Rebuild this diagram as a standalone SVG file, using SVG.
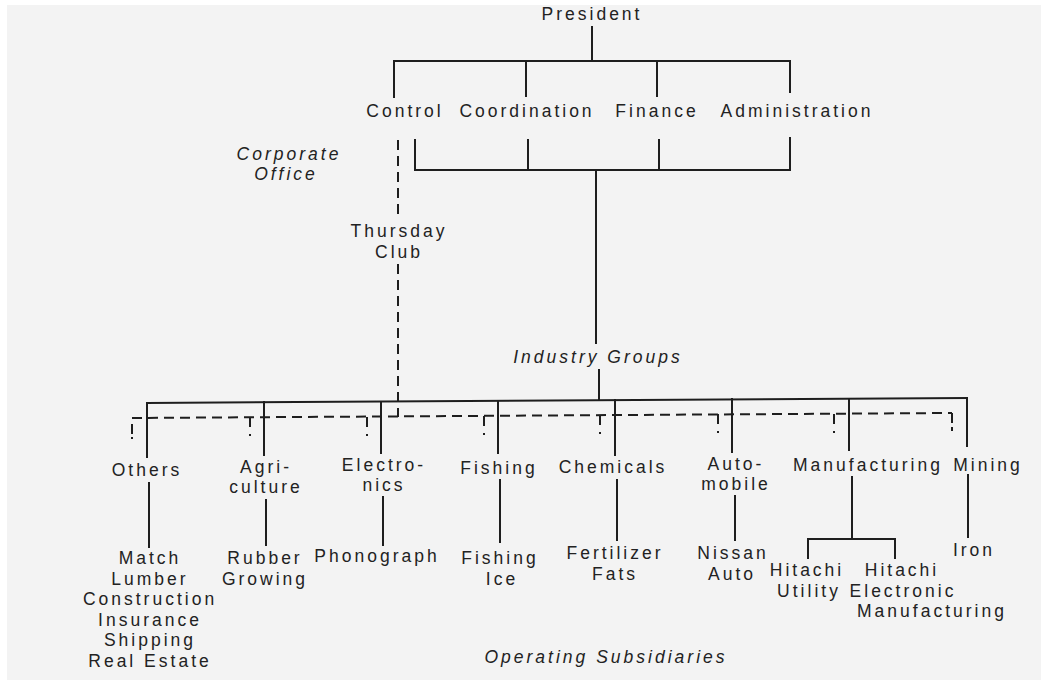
<svg xmlns="http://www.w3.org/2000/svg" width="1041" height="680" viewBox="0 0 1041 680">
  <style>
    .t { font-family: "Liberation Sans", Arial, sans-serif; font-size: 17.5px; letter-spacing: 3px; fill: #222222; text-anchor: middle; }
    .i { font-style: italic; }
    .ln { stroke: #1e1e1e; stroke-width: 2; fill: none; stroke-linecap: square; }
    .ds { stroke: #1e1e1e; stroke-width: 2; fill: none; stroke-dasharray: 10 6; }
    .dk { stroke: #1e1e1e; stroke-width: 2; fill: none; }
  </style>

  <!-- paper -->
  <rect x="0" y="0" width="1041" height="680" fill="#ffffff"/>
  <rect x="7" y="5" width="1034" height="675" fill="#f3f3f3"/>

  <!-- connectors -->
  <g id="connectors">
    <!-- president to staff offices -->
    <path class="ln" d="M592 27 V61 M394 61 H790 M394 61 V97 M526 61 V96 M657 61 V96 M790 61 V92"/>
    <!-- staff offices to industry groups -->
    <path class="ln" d="M415 140 V170 M528 140 V170 M659 140 V170 M790 138 V170 M415 170 H790 M596 170 V343 M599 370 V400"/>
    <!-- industry group bus -->
    <path class="ln" d="M147 403 L967 398"/>
    <path class="ln" d="M147 403 V457 M264 402 V455 M381 402 V453 M498 401 V453 M615 400 V455 M732 399 V452 M849 399 V450 M967 398 V446"/>
    <!-- groups to operating subsidiaries -->
    <path class="ln" d="M149 483 V547 M266 500 V545 M383 497 V545 M500 480 V542 M617 480 V540 M735 496 V540 M852 477 V539 M968 475 V537"/>
    <path class="ln" d="M808 539 H895 M808 539 V558 M895 539 V558"/>
    <!-- Thursday Club liaison (dashed) -->
    <path class="ds" d="M398 140 V218 M398 264 V417"/>
    <path class="ds" d="M132 418 L952 413"/>
    <!-- short dashed drops: a tick and a dot below the liaison line -->
    <path class="dk" d="M132 424 V434 M132 437 V439
                        M250 417 V427 M250 434 V436
                        M367 417 V427 M367 434 V436
                        M484 416 V426 M484 433 V435
                        M600 415 V425 M600 432 V434
                        M718 414 V424 M718 431 V433
                        M834 414 V424 M834 431 V433
                        M952 413 V423 M952 427 V431"/>
  </g>

  <!-- corporate office -->
  <g id="president"><text class="t" x="592" y="20">President</text></g>
  <g id="control"><text class="t" x="405" y="117">Control</text></g>
  <g id="coordination"><text class="t" x="527" y="117">Coordination</text></g>
  <g id="finance"><text class="t" x="657" y="117">Finance</text></g>
  <g id="administration"><text class="t" x="797" y="117">Administration</text></g>
  <g id="corporate-office"><text class="t i" x="289" y="160">Corporate</text><text class="t i" x="286" y="180">Office</text></g>
  <g id="thursday-club"><text class="t" x="399" y="237">Thursday</text><text class="t" x="399" y="258">Club</text></g>
  <g id="industry-groups"><text class="t i" x="598" y="363">Industry Groups</text></g>

  <!-- industry groups -->
  <g id="others"><text class="t" x="147" y="476">Others</text></g>
  <g id="agriculture"><text class="t" x="266" y="473">Agri-</text><text class="t" x="266" y="493">culture</text></g>
  <g id="electronics"><text class="t" x="384" y="471">Electro-</text><text class="t" x="384" y="491">nics</text></g>
  <g id="fishing"><text class="t" x="499" y="474">Fishing</text></g>
  <g id="chemicals"><text class="t" x="613" y="473">Chemicals</text></g>
  <g id="automobile"><text class="t" x="736" y="470">Auto-</text><text class="t" x="736" y="490">mobile</text></g>
  <g id="manufacturing"><text class="t" x="868" y="471">Manufacturing</text></g>
  <g id="mining"><text class="t" x="988" y="471">Mining</text></g>

  <!-- operating subsidiaries -->
  <g id="others-subs">
    <text class="t" x="150" y="564">Match</text>
    <text class="t" x="150" y="585">Lumber</text>
    <text class="t" x="150" y="605">Construction</text>
    <text class="t" x="150" y="626">Insurance</text>
    <text class="t" x="150" y="646">Shipping</text>
    <text class="t" x="150" y="667">Real Estate</text>
  </g>
  <g id="rubber"><text class="t" x="265" y="564">Rubber</text><text class="t" x="265" y="585">Growing</text></g>
  <g id="phonograph"><text class="t" x="377" y="562">Phonograph</text></g>
  <g id="fishing-ice"><text class="t" x="500" y="564">Fishing</text><text class="t" x="502" y="585">Ice</text></g>
  <g id="fertilizer"><text class="t" x="615" y="559">Fertilizer</text><text class="t" x="615" y="580">Fats</text></g>
  <g id="nissan"><text class="t" x="733" y="559">Nissan</text><text class="t" x="732" y="580">Auto</text></g>
  <g id="hitachi-utility"><text class="t" x="807" y="576">Hitachi</text><text class="t" x="809" y="597">Utility</text></g>
  <g id="hitachi-electronic"><text class="t" x="902" y="576">Hitachi</text><text class="t" x="903" y="597">Electronic</text><text class="t" x="932" y="617">Manufacturing</text></g>
  <g id="iron"><text class="t" x="974" y="556">Iron</text></g>
  <g id="operating-subsidiaries"><text class="t i" x="606" y="663">Operating Subsidiaries</text></g>
</svg>
